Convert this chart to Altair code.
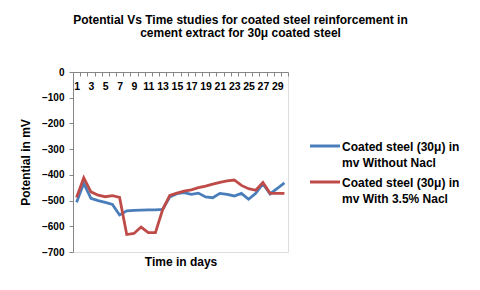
import altair as alt
import pandas as pd

days = list(range(1, 31))
series_names = [
    "Coated steel (30\u03bc) in mv Without Nacl",
    "Coated steel (30\u03bc) in mv With 3.5% Nacl",
]
legend_lines = [
    "Coated steel (30\u03bc) in|mv Without Nacl",
    "Coated steel (30\u03bc) in|mv With 3.5% Nacl",
]
without_nacl = [-507, -433, -491, -500, -507, -515, -556, -540, -538, -537,
                -536, -536, -534, -486, -473, -469, -476, -471, -486, -489,
                -472, -476, -482, -472, -495, -472, -434, -474, -453, -431]
with_nacl = [-488, -411, -466, -479, -485, -481, -488, -632, -628, -603,
             -625, -625, -536, -480, -471, -463, -458, -450, -444, -436,
             -429, -423, -420, -441, -454, -460, -430, -472, -472, -472]
colors = ["#4A7EBB", "#BE4B48"]

rows = []
for name, vals in zip(series_names, [without_nacl, with_nacl]):
    for d, v in zip(days, vals):
        rows.append({"day": d, "value": v, "series": name})
df = pd.DataFrame(rows)
legend_df = pd.DataFrame({"series": series_names, "label": legend_lines})

FONT = "Liberation Sans"
color_scale = alt.Scale(domain=series_names, range=colors)

lines = alt.Chart(df).mark_line(strokeWidth=2.8).encode(
    x=alt.X(
        "day:O",
        bandPosition=0.5,
        scale=alt.Scale(type="band", paddingInner=0, paddingOuter=0),
        axis=alt.Axis(
            orient="bottom",
            offset=-180,
            labelAngle=0,
            tickBand="extent",
            labelExpr="datum.value % 2 == 1 ? datum.label : ''",
            labelOverlap=False,
            labelFont=FONT,
            labelFontWeight="bold",
            labelFontSize=10.5,
            labelColor="#000000",
            labelPadding=5,
            tickSize=4,
            tickColor="#868686",
            domainColor="#868686",
            grid=False,
            title="Time  in days",
            titleFont=FONT,
            titleFontWeight="bold",
            titleFontSize=12,
            titleColor="#000000",
            titleY=193,
            titleBaseline="alphabetic",
        ),
    ),
    y=alt.Y(
        "value:Q",
        scale=alt.Scale(domain=[-700, 0], nice=False),
        axis=alt.Axis(
            values=[0, -100, -200, -300, -400, -500, -600, -700],
            labelFont=FONT,
            labelFontWeight="bold",
            labelFontSize=10,
            labelColor="#000000",
            labelPadding=5,
            tickSize=4,
            tickColor="#868686",
            domainColor="#868686",
            grid=False,
            title="Potential in mV",
            titleFont=FONT,
            titleFontWeight="bold",
            titleFontSize=12,
            titleColor="#000000",
            titlePadding=9,
        ),
    ),
    color=alt.Color("series:N", scale=color_scale, legend=None),
)

legend_y = alt.Y(
    "series:N",
    scale=alt.Scale(type="point", domain=series_names, range=[74, 110], padding=0),
    axis=None,
)

legend_rules = alt.Chart(legend_df).mark_rule(strokeWidth=3).encode(
    x=alt.value(237),
    x2=alt.value(267),
    y=legend_y,
    color=alt.Color("series:N", scale=color_scale, legend=None),
)

legend_text = alt.Chart(legend_df).mark_text(
    align="left",
    baseline="alphabetic",
    dy=4.5,
    lineBreak="|",
    lineHeight=16.7,
    font=FONT,
    fontSize=12,
    fontWeight="bold",
    color="#000000",
).encode(
    x=alt.value(269),
    y=legend_y,
    text="label:N",
)

chart = alt.layer(lines, legend_rules, legend_text).resolve_scale(
    y="independent"
).properties(
    width=215,
    height=180,
    title=alt.TitleParams(
        text=["Potential Vs Time studies for coated steel reinforcement in",
              "cement extract for 30\u03bc coated steel"],
        font=FONT,
        fontSize=12,
        fontWeight="bold",
        color="#000000",
        anchor="middle",
        dx=60,
        lineHeight=13,
        offset=27,
    ),
    padding={"left": 65, "top": 64, "right": 184, "bottom": 30},
    autosize=alt.AutoSizeParams(type="none"),
).configure_view(stroke=None).configure(background="white")

chart.save("out.html", embed_options={"renderer": "svg", "actions": False})
